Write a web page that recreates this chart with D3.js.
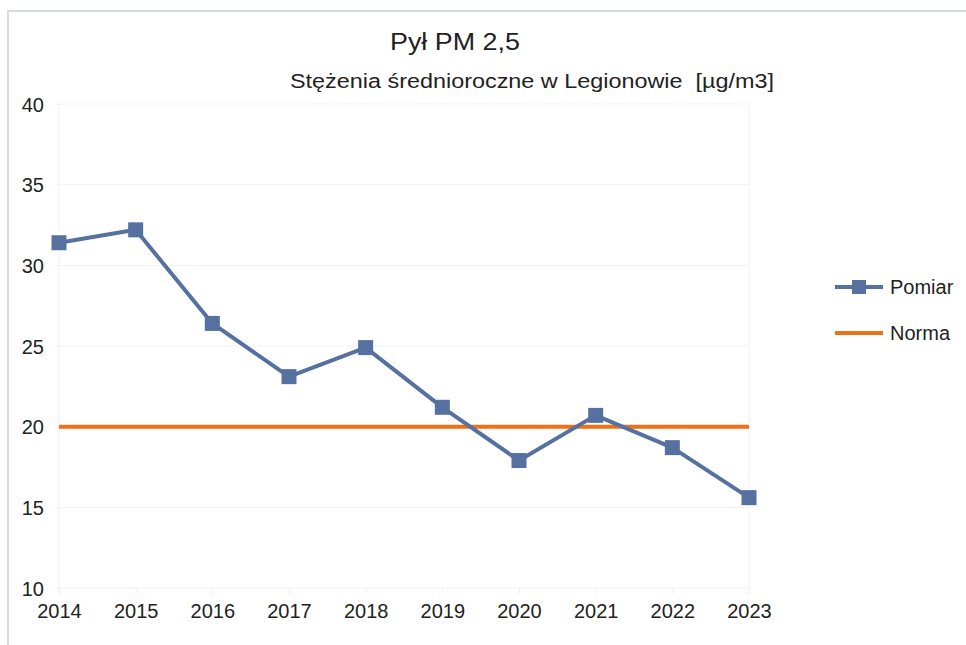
<!DOCTYPE html>
<html>
<head>
<meta charset="utf-8">
<script src="https://cdn.jsdelivr.net/npm/d3@7"></script>
<style>
  html, body { margin: 0; padding: 0; background: #fff; }
  svg { display: block; font-family: "Liberation Sans", Arial, sans-serif; }
</style>
</head>
<body>
<div id="chart"></div>
<script>
const years = [2014, 2015, 2016, 2017, 2018, 2019, 2020, 2021, 2022, 2023];
const pomiar = [31.4, 32.2, 26.4, 23.1, 24.9, 21.2, 17.9, 20.7, 18.7, 15.6];
const norma = 20;
const yTicks = [10, 15, 20, 25, 30, 35, 40];
const seriesNames = ["Pomiar", "Norma"];

const width = 966;
const height = 645;
const blue = "#56709f";
const orange = "#ee7215";

const svg = d3.select("#chart")
  .append("svg")
  .attr("width", width)
  .attr("height", height);

// light gray frame on the top and left
svg.append("path")
  .attr("d", `M 8,${height} L 8,11 L ${width},11`)
  .attr("fill", "none")
  .attr("stroke", "#d6dbe3")
  .attr("stroke-width", 2);

const x = d3.scalePoint().domain(years).range([59, 749]);
const y = d3.scaleLinear().domain([10, 40]).range([588, 104]);

// grid
svg.append("g")
  .selectAll("line")
  .data(yTicks)
  .join("line")
  .attr("x1", x(years[0]))
  .attr("x2", x(years[years.length - 1]))
  .attr("y1", (d) => y(d))
  .attr("y2", (d) => y(d))
  .attr("stroke", "#f1f1f1");

svg.append("g")
  .selectAll("line")
  .data([years[0], years[years.length - 1]])
  .join("line")
  .attr("x1", (d) => x(d))
  .attr("x2", (d) => x(d))
  .attr("y1", y(40))
  .attr("y2", y(10))
  .attr("stroke", "#f1f1f1");

// axes
const yAxis = svg.append("g")
  .attr("transform", `translate(${x(years[0])},0)`)
  .call(d3.axisLeft(y).tickValues(yTicks).tickSize(4).tickPadding(11));

const xAxis = svg.append("g")
  .attr("transform", `translate(0,${y(10)})`)
  .call(d3.axisBottom(x).tickSize(6).tickPadding(8).tickFormat(d3.format("d")));

[yAxis, xAxis].forEach((axis) => {
  axis.select(".domain").remove();
  axis.selectAll(".tick line").attr("stroke", "#eeeeee");
  axis.selectAll(".tick text")
    .attr("fill", "#222")
    .style("font-size", "20px")
    .style("font-family", "\"Liberation Sans\", Arial, sans-serif");
});
yAxis.selectAll(".tick text").attr("dy", "0.35em");
xAxis.selectAll(".tick text").attr("dy", "0.8em");

// norm line
svg.append("line")
  .attr("x1", x(years[0]))
  .attr("x2", x(years[years.length - 1]))
  .attr("y1", y(norma))
  .attr("y2", y(norma))
  .attr("stroke", orange)
  .attr("stroke-width", 4);

// measurement series
const line = d3.line()
  .x((d, i) => x(years[i]))
  .y((d) => y(d));

svg.append("path")
  .datum(pomiar)
  .attr("d", line)
  .attr("fill", "none")
  .attr("stroke", blue)
  .attr("stroke-width", 4)
  .attr("stroke-linejoin", "round");

const m = 15;
svg.append("g")
  .selectAll("rect")
  .data(pomiar)
  .join("rect")
  .attr("x", (d, i) => x(years[i]) - m / 2)
  .attr("y", (d) => y(d) - m / 2)
  .attr("width", m)
  .attr("height", m)
  .attr("fill", blue);

// titles
svg.append("text")
  .attr("x", 390)
  .attr("y", 50)
  .attr("fill", "#222")
  .attr("textLength", 130)
  .attr("lengthAdjust", "spacingAndGlyphs")
  .style("font-size", "23px")
  .text("Pył PM 2,5");

svg.append("text")
  .attr("x", 290)
  .attr("y", 88)
  .attr("fill", "#222")
  .attr("textLength", 484)
  .attr("lengthAdjust", "spacingAndGlyphs")
  .style("font-size", "20px")
  .style("white-space", "pre")
  .text("Stężenia średnioroczne w Legionowie  [µg/m3]");

// legend
const legend = svg.append("g").attr("transform", "translate(835,287)");
const item = legend.selectAll("g")
  .data(seriesNames)
  .join("g")
  .attr("transform", (d, i) => `translate(0,${i * 46})`);

item.append("line")
  .attr("x1", 0)
  .attr("x2", 48)
  .attr("stroke", (d, i) => (i === 0 ? blue : orange))
  .attr("stroke-width", 4);

item.filter((d, i) => i === 0)
  .append("rect")
  .attr("x", 24 - 7)
  .attr("y", -7)
  .attr("width", 14)
  .attr("height", 14)
  .attr("fill", blue);

item.append("text")
  .attr("x", 55)
  .attr("dy", "0.35em")
  .attr("fill", "#222")
  .style("font-size", "20px")
  .text((d) => d);
</script>
</body>
</html>
